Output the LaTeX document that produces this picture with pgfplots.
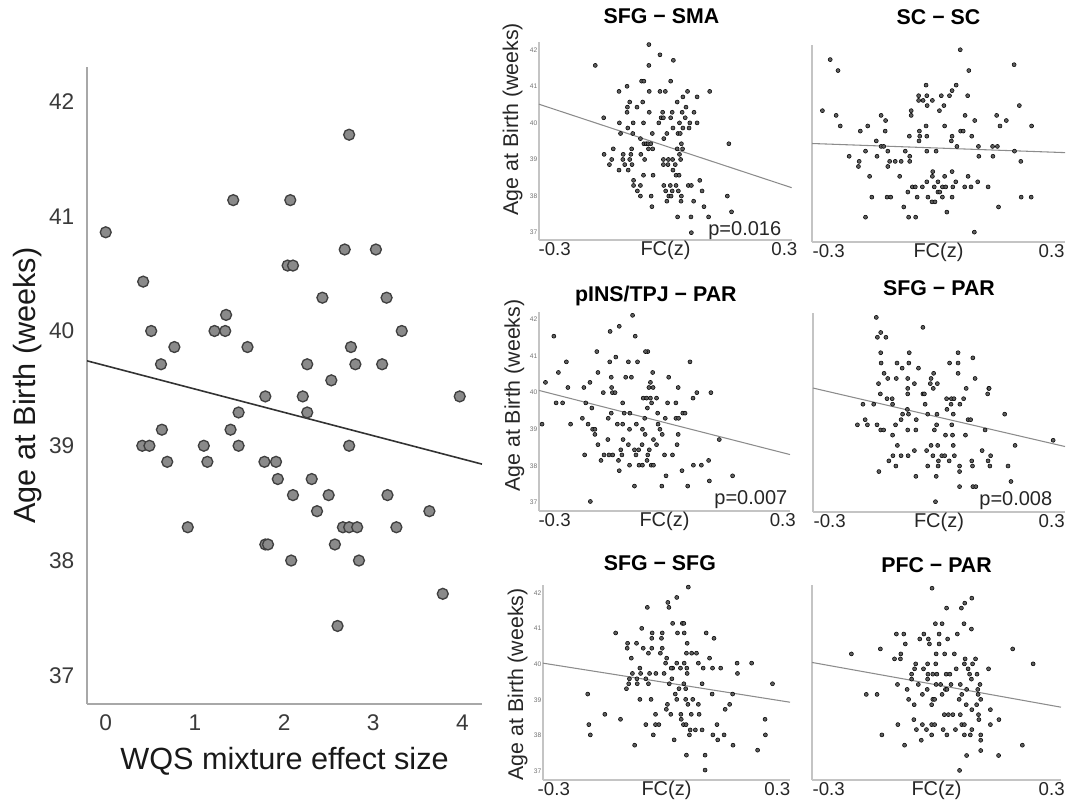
\documentclass[border=0pt]{standalone}
\usepackage{fontspec}
\setmainfont{Liberation Sans}
\usepackage{pgfplots}
\pgfplotsset{compat=1.18}

\definecolor{axgray}{HTML}{A8A8A8}
\definecolor{laxgray}{HTML}{C4C4C4}
\definecolor{tickgray}{HTML}{3A3A3A}
\definecolor{dotfill}{HTML}{8A8A8A}
\definecolor{dotedge}{HTML}{404040}
\definecolor{smalldot}{HTML}{5E5E5E}
\definecolor{fitgray}{HTML}{8C8C8C}

\tikzset{pval/.style={anchor=base east, font=\fontsize{15}{15}\selectfont, text=black!85}}

\pgfplotsset{
  /pgf/number format/assume math mode=true,
  panel/.style={
    anchor=south west, scale only axis, clip=false,
    axis lines=left, axis line style={laxgray, line width=0.9pt, -},
    major tick length=0pt,
    xtick={-0.3,0.3}, xticklabels={-0.3,0.3},
    ytick={37,38,39,40,41,42},
    xticklabel style={font=\fontsize{14}{14}\selectfont, text=black!85, anchor=base, yshift=-11.25pt},
    yticklabel style={font=\fontsize{5}{5}\selectfont, text=black!55, anchor=east, inner sep=1pt},
    xlabel={FC(z)},
    xlabel style={font=\fontsize{15}{15}\selectfont, text=black!85, at={(axis description cs:0.5,0)}, anchor=base, yshift=-11.25pt},
    ylabel style={font=\fontsize{16}{16}\selectfont, text=black!85, anchor=base},
    title style={font=\bfseries\fontsize{16}{16}\selectfont, anchor=base, at={(axis description cs:0.5,1)}},
  },
  dots/.style={only marks, mark=*, mark size=1.5pt, mark options={draw=none, fill=smalldot}},
  fit/.style={fitgray, line width=0.8pt, no marks},
}

\begin{document}
\begin{tikzpicture}
\useasboundingbox (0,0) rectangle (799.5pt,-601.5pt);

% ---- big scatter: WQS mixture vs age at birth ----
\begin{axis}[
  at={(65.25pt,-528pt)}, anchor=south west, scale only axis,
  width=296.25pt, height=477.75pt,
  xmin=-0.21, xmax=4.22, ymin=36.75, ymax=42.3,
  axis lines=left, axis line style={axgray, line width=1.3pt, -},
  major tick length=0pt,
  xtick={0,1,2,3,4}, ytick={37,38,39,40,41,42},
  tick label style={font=\fontsize{17}{17}\selectfont, text=tickgray},
  xticklabel style={anchor=base, yshift=-19.5pt},
  yticklabel style={anchor=east, xshift=-6pt},
  xlabel={WQS mixture effect size}, ylabel={Age at Birth (weeks)},
  label style={font=\fontsize{23}{23}\selectfont, text=black!90},
  xlabel style={at={(axis description cs:0.5,0)}, anchor=base, yshift=-48.75pt},
  ylabel style={at={(axis description cs:-0.1316,0.5)}, anchor=base},
]
\addplot[only marks, mark=*, mark size=4.1pt, mark options={fill=dotfill, draw=dotedge, line width=1pt}]
coordinates {
(0.00,40.86) (0.42,40.43) (0.51,40.0) (0.77,39.86) (0.62,39.71) (1.22,40.0) (1.34,40.0)
(1.35,40.14) (1.43,41.14) (1.59,39.86) (1.49,39.29) (1.79,39.43) (2.07,41.14) (2.04,40.57)
(2.10,40.57) (2.21,39.43) (2.26,39.29) (2.26,39.71) (2.43,40.29) (2.53,39.57) (2.68,40.71)
(2.73,41.71) (2.75,39.86) (2.80,39.71) (3.03,40.71) (3.10,39.71) (3.15,40.29) (3.32,40.0)
(3.97,39.43) (0.63,39.14) (0.41,39.0) (0.49,39.0) (0.69,38.86) (1.10,39.0) (1.14,38.86)
(1.40,39.14) (1.49,39.0) (1.78,38.86) (1.91,38.86) (1.93,38.71) (2.10,38.57) (2.31,38.71)
(2.37,38.43) (2.50,38.57) (2.73,39.0) (2.57,38.14) (2.66,38.29) (2.73,38.29) (2.82,38.29)
(2.84,38.0) (3.16,38.57) (3.26,38.29) (3.63,38.43) (3.78,37.71) (2.60,37.43) (0.92,38.29)
(1.79,38.14) (1.82,38.14) (2.08,38.0)
};
\addplot[color=black!80, line width=1.2pt, no marks] coordinates {(-0.21,39.74) (4.22,38.84)};
\end{axis}

% ---- SFG - SMA ----
\begin{axis}[panel, at={(404.25pt,-180pt)}, width=189.75pt, height=148.5pt,
  xmin=-0.341, xmax=0.32, ymin=36.8, ymax=42.21,
  title={SFG − SMA}, title style={yshift=7.5pt, xshift=-3pt},
  ylabel={Age at Birth (weeks)}, ylabel style={at={(axis description cs:-0.083,0.61)}}]
\addplot[dots] coordinates {
(-0.054,42.14) (-0.025,41.86) (0.010,41.71) (-0.194,41.57) (-0.054,41.57)
(-0.073,41.14) (-0.067,41.14) (0.003,41.14) (-0.111,41.0)
(-0.132,40.86) (-0.053,40.86) (-0.025,40.86) (-0.011,40.86) (0.047,40.86) (0.105,40.86)
(0.035,40.71) (0.072,40.71) (-0.104,40.57) (-0.070,40.57) (0.020,40.57)
(-0.110,40.43) (-0.085,40.43) (0.043,40.43)
(-0.111,40.29) (-0.053,40.29) (-0.018,40.29) (0.007,40.29) (0.033,40.29) (0.064,40.29)
(-0.172,40.14) (-0.022,40.14) (-0.016,40.14) (0.003,40.14) (0.041,40.14)
(-0.131,40.0) (-0.095,40.0) (-0.068,40.0) (-0.028,40.0) (0.026,40.0) (0.053,40.0) (0.072,40.0)
(-0.109,39.86) (0.009,39.86) (0.035,39.86) (0.051,39.86)
(-0.128,39.71) (-0.096,39.71) (-0.045,39.71) (-0.007,39.71) (0.022,39.71) (0.028,39.71)
(-0.076,39.57) (-0.015,39.57)
(-0.067,39.43) (-0.061,39.43) (-0.056,39.43) (-0.049,39.43) (0.031,39.43) (0.155,39.43)
(-0.147,39.29) (-0.099,39.29) (-0.055,39.29) (-0.044,39.29) (0.020,39.29) (0.034,39.29)
(-0.171,39.14) (-0.121,39.14) (-0.101,39.14) (-0.075,39.14) (0.026,39.14)
(-0.151,39.0) (-0.122,39.0) (-0.104,39.0) (-0.065,39.0) (-0.016,39.0) (-0.003,39.0) (0.008,39.0) (0.029,39.0)
(-0.157,38.86) (-0.117,38.86) (-0.098,38.86) (-0.016,38.86) (-0.004,38.86) (0.015,38.86)
(-0.132,38.71) (-0.108,38.71) (0.009,38.71)
(-0.068,38.57) (-0.043,38.57) (0.017,38.57) (0.025,38.57)
(-0.094,38.43) (0.079,38.43)
(-0.094,38.29) (-0.076,38.29) (-0.015,38.29) (0.002,38.29) (0.017,38.29) (0.049,38.29) (0.057,38.29)
(-0.084,38.14) (-0.010,38.14) (0.007,38.14) (0.023,38.14) (0.085,38.14)
(-0.076,38.0) (-0.048,38.0) (-0.002,38.0) (0.004,38.0) (0.031,38.0) (0.151,38.0)
(-0.007,37.86) (0.030,37.86) (0.063,37.86) (-0.046,37.71) (0.090,37.71) (0.162,37.57)
(0.021,37.43) (0.056,37.43) (0.102,37.43) (0.057,37.0)
};
\addplot[fit] coordinates {(-0.341,40.51) (0.319,38.23)};
\node[pval] at (axis description cs:0.976,0.025) {p=0.016};
\end{axis}

% ---- SC - SC ----
\begin{axis}[panel, at={(609pt,-181.5pt)}, width=189.75pt, height=147.75pt,
  xmin=-0.345, xmax=0.336, ymin=36.75, ymax=42.15, ytick=\empty,
  title={SC − SC}, title style={yshift=9.75pt}]
\addplot[dots] coordinates {
(0.054,42.02) (-0.296,41.75) (0.199,41.61) (-0.275,41.45) (0.077,41.45)
(-0.038,41.05) (0.043,41.05) (0.032,40.9)
(-0.058,40.76) (-0.036,40.76) (0.003,40.76) (0.025,40.76) (0.074,40.76)
(-0.058,40.63) (-0.046,40.63) (-0.021,40.63)
(-0.035,40.49) (0.010,40.49) (0.213,40.49)
(-0.317,40.35) (-0.078,40.35) (-0.002,40.35)
(-0.280,40.22) (-0.159,40.22) (-0.078,40.22) (0.067,40.22) (0.152,40.22)
(-0.147,40.08) (0.093,40.08) (0.178,40.08)
(-0.269,39.93) (-0.195,39.93) (-0.038,39.93) (0.012,39.93) (0.161,39.93) (0.246,39.93)
(-0.215,39.79) (-0.148,39.79) (-0.056,39.79) (0.055,39.79) (0.062,39.79)
(-0.083,39.65) (-0.055,39.65) (-0.036,39.65) (0.032,39.65) (0.085,39.65)
(-0.172,39.52) (-0.057,39.52) (0.030,39.52)
(-0.159,39.37) (-0.152,39.37) (0.045,39.37) (0.103,39.37) (0.141,39.37) (0.154,39.37)
(-0.201,39.24) (-0.141,39.24) (-0.094,39.24) (-0.036,39.24) (-0.011,39.24) (0.200,39.24)
(-0.245,39.1) (-0.170,39.1) (-0.082,39.1) (0.104,39.1) (0.142,39.1)
(-0.218,38.96) (-0.136,38.96) (-0.121,38.96) (-0.105,38.96) (-0.082,38.96) (0.217,38.96)
(-0.220,38.82) (-0.141,38.82) (-0.020,38.68) (0.032,38.68)
(-0.190,38.55) (-0.109,38.55) (-0.021,38.55) (0.012,38.55) (0.075,38.55)
(-0.036,38.4) (-0.006,38.4) (0.042,38.4) (0.101,38.4)
(-0.075,38.26) (-0.067,38.26) (-0.048,38.26) (-0.016,38.26) (0.006,38.26) (0.015,38.26)
(0.034,38.26) (0.066,38.26) (0.083,38.26) (0.129,38.26)
(-0.087,38.12) (-0.006,38.12) (-0.001,38.12)
(-0.184,37.98) (-0.143,37.98) (-0.133,37.98) (-0.062,37.98) (-0.033,37.98) (0.006,37.98)
(0.032,37.98) (0.218,37.98) (0.245,37.98)
(-0.022,37.85) (-0.014,37.85) (-0.098,37.71) (0.157,37.71) (0.018,37.57)
(-0.201,37.43) (-0.085,37.43) (-0.066,37.43) (0.092,37.02)
};
\addplot[fit] coordinates {(-0.345,39.45) (0.336,39.2)};
\end{axis}

% ---- pINS/TPJ - PAR ----
\begin{axis}[panel, at={(404.25pt,-383.25pt)}, width=188.25pt, height=149.25pt,
  xmin=-0.341, xmax=0.319, ymin=36.77, ymax=42.2,
  title={pINS/TPJ − PAR}, title style={yshift=2.25pt, xshift=-6.5pt},
  ylabel={Age at Birth (weeks)}, ylabel style={at={(axis description cs:-0.076,0.58)}}]
\addplot[dots] coordinates {
(-0.095,42.11) (-0.130,41.81) (-0.154,41.67) (-0.302,41.54) (-0.088,41.54)
(-0.055,41.12) (-0.061,41.12) (-0.189,41.12) (-0.139,40.97)
(-0.269,40.84) (-0.155,40.84) (-0.106,40.84) (-0.082,40.84) (0.056,40.84)
(-0.290,40.55) (-0.186,40.55) (-0.042,40.55)
(-0.113,40.42) (-0.098,40.42) (-0.151,40.42) (0.000,40.42)
(-0.324,40.28) (-0.207,40.28) (-0.048,40.28)
(-0.265,40.14) (-0.223,40.14) (-0.150,40.14) (-0.052,40.14) (-0.041,40.14) (0.025,40.14)
(-0.172,40.0) (-0.148,40.0) (-0.141,40.0) (0.074,40.0) (0.111,40.0)
(-0.067,39.85) (-0.058,39.85) (-0.048,39.85) (-0.032,39.85) (0.064,39.85)
(-0.296,39.72) (-0.279,39.72) (-0.218,39.72) (-0.121,39.72) (-0.045,39.72) (-0.003,39.72) (0.019,39.72)
(-0.202,39.58) (-0.056,39.58)
(-0.151,39.44) (-0.117,39.44) (-0.102,39.44) (-0.029,39.44) (0.037,39.44) (0.043,39.44)
(-0.227,39.3) (-0.159,39.3) (-0.063,39.3) (-0.009,39.3) (0.019,39.3) (0.026,39.3)
(-0.333,39.14) (-0.258,39.14) (-0.212,39.14) (-0.135,39.14) (-0.121,39.14) (-0.085,39.14) (-0.028,39.14)
(-0.200,39.0) (-0.194,39.0) (-0.103,39.0) (-0.069,39.0) (-0.023,39.0)
(-0.194,38.86) (-0.062,38.86) (-0.017,38.86) (0.025,38.86)
(-0.160,38.72) (-0.120,38.72) (-0.040,38.72) (0.133,38.72)
(-0.186,38.58) (-0.106,38.58) (-0.070,38.58) (-0.032,38.58) (0.022,38.58)
(-0.126,38.44) (-0.090,38.44) (-0.051,38.44) (-0.079,38.44)
(-0.221,38.3) (-0.170,38.3) (-0.157,38.3) (-0.147,38.3) (-0.123,38.3) (-0.086,38.3)
(-0.055,38.3) (-0.011,38.3) (0.010,38.3)
(-0.178,38.15) (-0.132,38.15) (-0.057,38.15) (0.105,38.15)
(-0.103,38.02) (-0.078,38.02) (-0.069,38.02) (-0.046,38.02) (-0.040,38.02) (0.065,38.02) (0.086,38.02)
(-0.130,37.87) (0.035,37.87) (-0.007,37.73) (0.168,37.73) (0.107,37.59)
(-0.090,37.45) (-0.018,37.45) (0.050,37.45) (-0.206,37.03)
};
\addplot[fit] coordinates {(-0.341,40.06) (0.319,38.31)};
\node[pval] at (axis description cs:1.008,0.035) {p=0.007};
\end{axis}

% ---- SFG - PAR ----
\begin{axis}[panel, at={(609.75pt,-384pt)}, width=189pt, height=149.25pt,
  xmin=-0.345, xmax=0.336, ymin=36.77, ymax=42.18, ytick=\empty,
  title={SFG − PAR}, title style={yshift=7.5pt}]
\addplot[dots] coordinates {
(-0.174,42.06) (-0.048,41.79) (-0.162,41.65) (-0.171,41.52) (-0.148,41.52)
(-0.162,41.1) (-0.085,41.1) (0.047,41.1) (0.087,40.96)
(-0.161,40.82) (-0.118,40.82) (-0.086,40.82) (0.024,40.82) (0.047,40.82)
(-0.104,40.68) (-0.060,40.68) (-0.153,40.54) (-0.019,40.54) (0.047,40.54)
(-0.143,40.4) (-0.120,40.4) (-0.089,40.4) (-0.026,40.4) (0.093,40.4)
(-0.168,40.26) (-0.071,40.26) (-0.028,40.26) (-0.009,40.26)
(-0.089,40.13) (-0.020,40.13) (0.069,40.13) (0.130,40.13) (0.131,40.13)
(-0.163,39.98) (-0.089,39.98) (-0.048,39.98) (-0.044,39.98) (0.127,39.98)
(-0.145,39.85) (-0.131,39.85) (0.016,39.85) (0.029,39.85) (0.036,39.85) (0.062,39.85)
(-0.210,39.7) (-0.181,39.7) (-0.130,39.7) (-0.042,39.7) (0.028,39.7) (0.052,39.7)
(0.017,39.56) (-0.090,39.56)
(-0.103,39.43) (-0.087,39.43) (-0.035,39.43) (-0.010,39.43) (0.034,39.43) (0.173,39.43)
(-0.204,39.28) (-0.107,39.28) (-0.066,39.28) (0.074,39.28) (0.081,39.28)
(-0.225,39.14) (-0.198,39.14) (-0.172,39.14) (-0.122,39.14) (-0.011,39.14) (0.030,39.14)
(-0.162,39.0) (-0.154,39.0) (-0.089,39.0) (-0.067,39.0) (-0.017,39.0) (0.120,39.0)
(-0.130,38.86) (0.013,38.86) (0.032,38.86) (0.067,38.86) (0.304,38.72)
(-0.117,38.58) (-0.026,38.58) (-0.008,38.58) (0.034,38.58) (0.201,38.58)
(-0.071,38.44) (-0.038,38.44) (0.112,38.44)
(-0.129,38.3) (-0.107,38.3) (-0.088,38.3) (-0.021,38.3) (0.003,38.3) (0.011,38.3) (0.037,38.3) (0.135,38.3)
(-0.140,38.16) (-0.006,38.16) (0.023,38.16) (0.084,38.16) (0.128,38.16)
(-0.121,38.02) (-0.035,38.02) (-0.007,38.02) (0.051,38.02) (0.086,38.02) (0.133,38.02) (0.182,38.02)
(-0.167,37.87) (0.051,37.87) (-0.067,37.74) (-0.012,37.74) (0.190,37.6)
(0.051,37.46) (0.087,37.46) (0.095,37.46) (-0.014,37.05)
};
\addplot[fit] coordinates {(-0.345,40.14) (0.336,38.55)};
\node[pval] at (axis description cs:0.968,0.035) {p=0.008};
\end{axis}

% ---- SFG - SFG ----
\begin{axis}[panel, at={(407.25pt,-585pt)}, width=185.25pt, height=146.25pt,
  xmin=-0.329, xmax=0.334, ymin=36.74, ymax=42.23,
  title={SFG − SFG}, title style={yshift=5.25pt, xshift=-5pt},
  ylabel={Age at Birth (weeks)}, ylabel style={at={(axis description cs:-0.081,0.49)}}]
\addplot[dots] coordinates {
(0.061,42.17) (0.030,41.88) (0.006,41.74) (0.009,41.6) (-0.049,41.6)
(0.019,41.15) (0.045,41.15) (0.049,41.15) (-0.064,41.01)
(-0.134,40.88) (-0.036,40.88) (-0.009,40.88) (0.032,40.88) (0.050,40.88) (0.109,40.88)
(-0.011,40.73) (0.130,40.73) (-0.037,40.73)
(0.058,40.59) (-0.102,40.59) (-0.078,40.59)
(-0.060,40.45) (-0.037,40.45) (-0.009,40.45) (-0.103,40.45)
(-0.046,40.31) (-0.014,40.31) (0.056,40.31) (0.070,40.31) (0.083,40.31)
(-0.092,40.17) (0.003,40.17) (0.118,40.17)
(0.050,40.03) (0.088,40.03) (0.000,40.03) (0.030,40.03) (0.192,40.03) (0.231,40.03)
(-0.069,39.89) (0.019,39.89) (0.040,39.89) (0.057,39.89) (0.101,39.89) (0.126,39.89) (0.148,39.89) (0.015,39.89)
(-0.089,39.74) (-0.067,39.74) (-0.043,39.74) (-0.026,39.74) (-0.004,39.74) (0.058,39.74) (0.193,39.74)
(-0.097,39.59) (-0.077,39.59) (-0.053,39.59) (0.017,39.59)
(-0.046,39.45) (0.049,39.45) (-0.099,39.45) (-0.076,39.45) (0.010,39.45) (0.098,39.45) (0.287,39.45)
(0.054,39.31) (0.036,39.31) (-0.105,39.31)
(-0.209,39.16) (0.026,39.16) (0.125,39.16) (0.180,39.16)
(-0.069,39.01) (-0.039,39.01) (0.030,39.01) (0.054,39.01) (0.073,39.01)
(0.005,38.87) (0.088,38.87) (0.060,38.87) (0.172,38.87)
(0.160,38.73) (0.002,38.73)
(-0.027,38.59) (0.014,38.59) (0.041,38.59) (0.069,38.59) (0.090,38.59) (-0.163,38.59)
(-0.121,38.45) (0.042,38.45) (0.267,38.45)
(-0.053,38.3) (-0.027,38.3) (-0.018,38.3) (0.048,38.3) (0.055,38.3) (0.138,38.3) (-0.206,38.3)
(0.066,38.15) (0.080,38.15) (0.098,38.15)
(-0.033,38.01) (0.064,38.01) (0.127,38.01) (0.157,38.01) (0.268,38.01) (-0.202,38.01)
(0.140,37.87) (0.023,37.87) (-0.083,37.72) (0.181,37.72) (0.247,37.58)
(0.056,37.44) (0.106,37.44) (0.106,37.02)
};
\addplot[fit] coordinates {(-0.329,40.03) (0.334,38.93)};
\end{axis}

% ---- PFC - PAR ----
\begin{axis}[panel, at={(609pt,-585pt)}, width=186.75pt, height=146.25pt,
  xmin=-0.345, xmax=0.325, ymin=36.74, ymax=42.23, ytick=\empty,
  title={PFC − PAR}, title style={yshift=3.75pt}]
\addplot[dots] coordinates {
(-0.022,42.14) (0.085,41.86) (0.066,41.72) (0.057,41.58) (0.017,41.58)
(-0.013,41.14) (0.005,41.14) (0.064,41.14) (0.084,40.99)
(-0.118,40.85) (-0.098,40.85) (-0.044,40.85) (-0.003,40.85) (0.046,40.85)
(-0.055,40.71) (-0.032,40.71) (0.020,40.71)
(-0.094,40.57) (-0.029,40.57) (-0.003,40.57) (-0.161,40.43) (0.195,40.43)
(-0.239,40.29) (-0.106,40.29) (-0.011,40.29) (0.012,40.29) (0.038,40.29)
(-0.123,40.15) (-0.107,40.15) (0.067,40.15) (0.095,40.15)
(-0.066,40.01) (-0.034,40.01) (-0.012,40.01) (0.065,40.01) (0.087,40.01) (0.250,40.01)
(-0.069,39.87) (-0.045,39.87) (0.043,39.87) (0.130,39.87) (0.075,39.87)
(-0.077,39.72) (-0.033,39.72) (-0.020,39.72) (-0.009,39.72) (0.016,39.72) (0.026,39.72) (0.079,39.72) (0.099,39.72)
(-0.077,39.58) (-0.034,39.58) (0.084,39.58)
(-0.115,39.43) (-0.059,39.43) (-0.011,39.43) (0.001,39.43) (0.029,39.43) (0.054,39.43) (0.107,39.43)
(-0.089,39.29) (-0.035,39.29) (0.014,39.29) (0.018,39.29) (0.071,39.29) (0.101,39.29)
(-0.199,39.15) (-0.170,39.15) (-0.048,39.15) (0.005,39.15) (0.058,39.15) (0.102,39.15)
(-0.085,39.01) (-0.020,39.01) (-0.015,39.01) (0.051,39.01) (0.109,39.01)
(-0.070,38.86) (-0.023,38.86) (0.070,38.86) (0.098,38.86)
(0.085,38.72) (0.135,38.72)
(0.011,38.58) (0.022,38.58) (0.034,38.58) (0.054,38.58) (0.103,38.58)
(-0.071,38.44) (0.104,38.44) (0.158,38.44)
(-0.114,38.3) (-0.048,38.3) (-0.023,38.3) (-0.015,38.3) (0.058,38.3) (0.065,38.3) (0.135,38.3)
(-0.064,38.16) (-0.037,38.16) (0.008,38.16) (0.041,38.16) (0.085,38.16)
(-0.157,38.01) (-0.023,38.01) (0.018,38.01) (0.065,38.01) (0.081,38.01) (0.109,38.01)
(-0.051,37.86) (0.109,37.86) (-0.096,37.72) (0.221,37.72) (0.109,37.57)
(0.071,37.43) (0.157,37.43) (0.052,37.01)
};
\addplot[fit] coordinates {(-0.345,40.05) (0.325,38.79)};
\end{axis}
\end{tikzpicture}
\end{document}
